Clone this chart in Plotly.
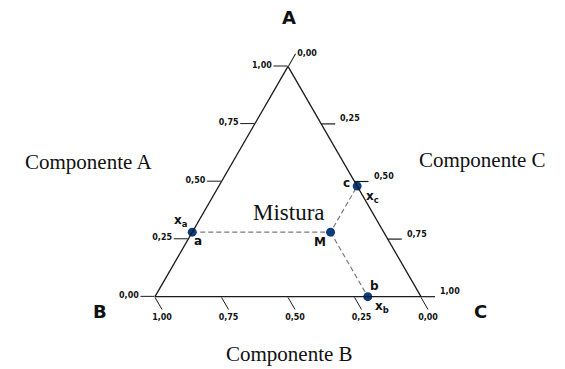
import math
import plotly.graph_objects as go

# Axis ticks (fractions) and their printed labels (decimal comma)
tick_vals = [0.0, 0.25, 0.50, 0.75, 1.0]
tick_text = ["0,00", "0,25", "0,50", "0,75", "1,00"]

# Compositions (fraction of A, B, C) of the marked points
point_names = ["a", "M", "c", "b"]
frac_a = [0.28, 0.28, 0.48, 0.00]
frac_b = [0.72, 0.20, 0.00, 0.20]
frac_c = [0.00, 0.52, 0.52, 0.80]

POINT_COLOR = "#0b3c7d"
LINE_COLOR = "#1a1a1a"
DASH_COLOR = "#7a7a7a"
TICK_LEN = 14

W, H = 565, 369
ML, MR, MT, MB = 155, 144, 66, 72
PW, PH = W - ML - MR, H - MT - MB
TRI_H = PW * math.sqrt(3) / 2          # triangle height in px
Y_OFF = (PH - TRI_H) / 2               # vertical centring inside the plot area


def px(x):
    return (x - ML) / PW


def py(y):
    return (H - MB - y) / PH


def tern_paper(a, b, c):
    """Paper coordinates of a ternary composition (sum = 1)."""
    return c + a / 2, (Y_OFF + a * TRI_H) / PH


idx = {n: i for i, n in enumerate(point_names)}


def pick(names):
    ii = [idx[n] for n in names]
    return ([frac_a[i] for i in ii], [frac_b[i] for i in ii], [frac_c[i] for i in ii])


fig = go.Figure()

# Tie lines through the mixture point M
for path in (["a", "M", "c"], ["M", "b"]):
    a, b, c = pick(path)
    fig.add_trace(go.Scatterternary(
        a=a, b=b, c=c, mode="lines",
        line=dict(color=DASH_COLOR, width=1.2, dash="5px,3px"),
        hoverinfo="skip", showlegend=False, cliponaxis=False,
    ))

fig.add_trace(go.Scatterternary(
    a=frac_a, b=frac_b, c=frac_c, mode="markers",
    marker=dict(color=POINT_COLOR, size=9),
    showlegend=False, cliponaxis=False,
))

tick_font = dict(family="DejaVu Sans", size=8, color="#111", weight="bold")
axis_common = dict(
    tickmode="array", tickvals=tick_vals, ticktext=tick_text,
    ticks="outside", ticklen=TICK_LEN, tickcolor=LINE_COLOR, tickwidth=1.2,
    showgrid=False, linecolor=LINE_COLOR, linewidth=1.3,
    tickfont=tick_font, showline=True, title=dict(text=""),
)
c_axis = dict(axis_common, tickvals=tick_vals[:1], ticktext=tick_text[:1])

fig.update_layout(
    width=W, height=H,
    margin=dict(l=ML, r=MR, t=MT, b=MB),
    paper_bgcolor="white", plot_bgcolor="white",
    ternary=dict(
        sum=1, bgcolor="white",
        aaxis=axis_common, baxis=axis_common, caxis=c_axis,
    ),
)

annotations = []
shapes = []

# Horizontal ticks and labels on the right edge (component C)
d = TICK_LEN / PW
for v, t in zip(tick_vals[1:], tick_text[1:]):
    x0, y0 = tern_paper(1 - v, 0, v)
    x1, y1 = tern_paper(1 - v, -d, v + d)
    shapes.append(dict(type="line", xref="paper", yref="paper",
                       x0=x0, y0=y0, x1=x1, y1=y1,
                       line=dict(color=LINE_COLOR, width=1.2)))
    annotations.append(dict(text=t, x=x1, y=y1, xanchor="left", yanchor="middle",
                            xshift=3, yshift=5, font=tick_font))

# Point names and mole-fraction labels, offset from their points
label_font = dict(family="DejaVu Sans", size=12, color="#111", weight="bold")
point_labels = [
    ("a", "a", 6, -9),
    ("a", "x<sub>a</sub>", -12, 11),
    ("M", "M", -11, -10),
    ("c", "c", -11, 3),
    ("c", "x<sub>c</sub>", 15, -11),
    ("b", "b", 7, 11),
    ("b", "x<sub>b</sub>", 14, -10),
]
for name, text, dx, dy in point_labels:
    i = idx[name]
    x, y = tern_paper(frac_a[i], frac_b[i], frac_c[i])
    annotations.append(dict(text=text, x=x, y=y, xanchor="center", yanchor="middle",
                            xshift=dx, yshift=dy, font=label_font))

serif = dict(family="Liberation Serif", size=21, color="#111")
vertex = dict(family="DejaVu Sans", size=18, color="#111", weight="bold")
annotations += [
    dict(text="Componente A", x=px(88), y=py(162), font=serif),
    dict(text="Componente C", x=px(482), y=py(160), font=serif),
    dict(text="Componente B", x=px(289), y=py(354), font=serif),
    dict(text="Mistura", x=px(289), y=py(212),
         font=dict(family="Liberation Serif", size=23, color="#111")),
    dict(text="A", x=px(289), y=py(18), font=vertex),
    dict(text="B", x=px(100), y=py(311), font=vertex),
    dict(text="C", x=px(480), y=py(311), font=vertex),
]
for ann in annotations:
    ann.setdefault("xanchor", "center")
    ann.setdefault("yanchor", "middle")
    ann.update(xref="paper", yref="paper", showarrow=False)
fig.update_layout(annotations=annotations, shapes=shapes)

fig.write_html("out.html")
